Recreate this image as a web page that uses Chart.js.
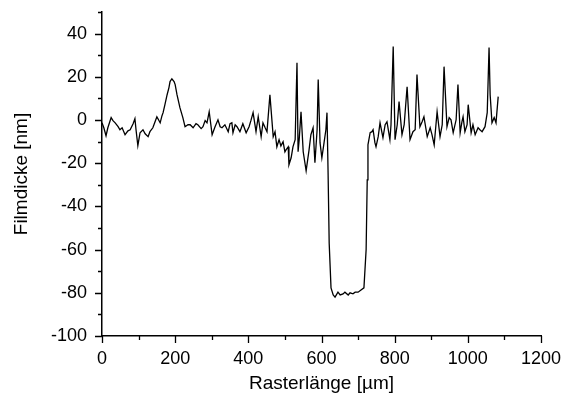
<!DOCTYPE html>
<html>
<head>
<meta charset="utf-8">
<script src="https://cdn.jsdelivr.net/npm/chart.js@4"></script>
<style>
  body { margin: 0; background: #fff; }
  #wrap { width: 562px; height: 401px; }
</style>
</head>
<body>
<div id="wrap"><canvas id="profileChart" width="562" height="401"></canvas></div>
<script>
// Rasterlänge in µm
const rasterX = [
  0, 5, 11, 16, 25, 30, 36, 44, 49, 55, 63, 71, 77, 85, 90, 93, 98, 104, 112, 118,
  126, 131, 139, 145, 150, 159, 164, 167, 172, 178, 183, 186, 191, 197, 200, 205, 213, 221, 227, 235,
  241, 249, 257, 262, 271, 276, 282, 287, 293, 301, 309, 317, 323, 328, 336, 345, 350, 355, 358, 364,
  369, 377, 385, 394, 402, 407, 413, 421, 427, 435, 440, 446, 451, 459, 468, 473, 478, 484, 489, 495,
  500, 503, 509, 511, 517, 522, 528, 533, 536, 539, 544, 550, 558, 566, 571, 577, 582, 588, 591, 596,
  601, 607, 612, 615, 618, 621, 626, 632, 637, 645, 651, 659, 664, 673, 678, 686, 692, 700, 708, 716,
  722, 725, 727, 733, 738, 741, 746, 749, 755, 760, 768, 774, 779, 787, 790, 796, 801, 807, 812, 820,
  826, 834, 842, 850, 856, 861, 869, 875, 880, 889, 897, 902, 908, 916, 924, 930, 935, 943, 949, 954,
  960, 968, 973, 979, 984, 987, 992, 998, 1001, 1009, 1014, 1020, 1028, 1033, 1039, 1047, 1053, 1058, 1061, 1066,
  1072, 1077, 1083
];

// Filmdicke in nm
const filmDicke = [
  -1.3, -3.6, -7.3, -3.6, 1.1, -0.3, -1.3, -3.1, -4.5, -3.6, -6.8, -5.0, -4.5, -1.7, 0.6, -4.5, -11.9, -5.9, -4.5, -6.4,
  -7.7, -5.4, -3.6, -0.8, 1.5, -1.3, 2.0, 3.4, 7.1, 11.7, 15.0, 17.8, 19.1, 17.8, 16.4, 11.7, 5.7, 1.1, -3.1, -2.2,
  -2.2, -3.6, -1.7, -2.2, -4.0, -3.1, -0.3, -1.3, 3.8, -6.8, -3.1, 0.1, -3.1, -3.6, -2.2, -5.4, -1.7, -1.3, -5.9, -2.2,
  -3.1, -5.4, -1.7, -5.9, -3.1, -0.3, 3.4, -5.4, 1.5, -7.7, -1.3, -3.6, -5.4, 11.7, -7.7, -5.4, -12.4, -9.1, -12.0, -10.1,
  -14.7, -13.8, -12.4, -20.7, -17.5, -12.4, -9.1, 26.5, -14.7, -9.1, 3.8, -14.7, -23.5, -13.8, -6.8, -3.6, -19.8, -4.5, 18.7, -10.5,
  -17.5, -10.5, -4.5, 3.4, -24.4, -57, -77.7, -81, -82, -79.7, -81, -80.5, -79.7, -81, -80, -80.5, -79.7, -79.7, -78.7, -77.7,
  -60, -27.7, -11.5, -5.9, -5.4, -4.5, -10.5, -12.4, -7.7, -1.3, -8.2, -2.2, -0.8, -9.1, -2.2, 34.0, -9.1, -2.2, 8.5, -6.8,
  -2.2, 15.4, -9.1, -5.4, -4.5, 21.0, -3.1, -0.8, 1.5, -7.7, -3.6, -6.8, -11.5, 3.8, -7.7, -2.2, 24.7, -3.1, 1.1, 0.1,
  -5.9, 0.1, 16.4, -5.9, -0.8, 1.5, -5.4, -2.2, 7.1, -5.9, -2.2, -6.8, -3.6, -4.5, -5.4, -3.1, 3.4, 33.5, 11.7, -1.3,
  1.1, -1.3, 10.8
];

const xTickLabels = ["0", "200", "400", "600", "800", "1000", "1200"];
const yTickLabels = ["-100", "-80", "-60", "-40", "-20", "0", "20", "40"];

const points = rasterX.map((x, i) => ({ x: x, y: filmDicke[i] }));

const fontFamily = "'Liberation Sans', Arial, sans-serif";

// tick marks outside the axes: long for labelled, short for the others
const outerTicks = {
  id: "outerTicks",
  afterDraw(chart) {
    const ctx = chart.ctx;
    const xs = chart.scales.x;
    const ys = chart.scales.y;
    ctx.save();
    ctx.strokeStyle = "#000";
    ctx.lineWidth = 1.3;
    ctx.beginPath();
    xs.ticks.forEach(t => {
      const px = Math.round(xs.getPixelForValue(t.value)) + 0.5;
      const len = xTickLabels.includes(String(t.value)) ? 7 : 4;
      ctx.moveTo(px, xs.top);
      ctx.lineTo(px, xs.top + len);
    });
    ys.ticks.forEach(t => {
      const py = Math.round(ys.getPixelForValue(t.value)) + 0.5;
      const len = yTickLabels.includes(String(t.value)) ? 7 : 4;
      ctx.moveTo(ys.right, py);
      ctx.lineTo(ys.right - len, py);
    });
    ctx.stroke();
    ctx.restore();
  }
};

new Chart(document.getElementById("profileChart"), {
  type: "scatter",
  data: {
    datasets: [{
      data: points,
      showLine: true,
      borderColor: "#000",
      borderWidth: 1.3,
      pointRadius: 0,
      tension: 0
    }]
  },
  options: {
    responsive: false,
    animation: false,
    layout: { padding: { left: 0, top: 12, right: 21, bottom: 0 } },
    plugins: {
      legend: { display: false },
      tooltip: { enabled: false }
    },
    scales: {
      x: {
        type: "linear",
        min: 0,
        max: 1200,
        afterFit: s => { s.height = 65; s.paddingLeft = 0; s.paddingRight = 0; },
        grid: { display: false },
        border: { display: true, color: "#000", width: 1.5 },
        ticks: {
          stepSize: 100,
          autoSkip: false,
          maxRotation: 0,
          padding: 4,
          color: "#000",
          font: { family: fontFamily, size: 18 },
          callback: v => (xTickLabels.includes(String(v)) ? String(v) : "")
        },
        title: {
          display: true,
          text: "Rasterlänge [µm]",
          color: "#000",
          font: { family: fontFamily, size: 19 },
          padding: { top: 0, bottom: 6 }
        }
      },
      y: {
        type: "linear",
        min: -100,
        max: 50,
        afterFit: s => { s.width = 102; s.paddingTop = 0; s.paddingBottom = 0; },
        grid: { display: false },
        border: { display: true, color: "#000", width: 1.5 },
        ticks: {
          stepSize: 10,
          autoSkip: false,
          padding: 7,
          color: "#000",
          font: { family: fontFamily, size: 18 },
          callback: v => (yTickLabels.includes(String(v)) ? String(v) : "")
        },
        title: {
          display: true,
          text: "Filmdicke [nm]",
          color: "#000",
          font: { family: fontFamily, size: 19 },
          padding: { top: 10, bottom: 0 }
        }
      }
    }
  },
  plugins: [outerTicks]
});
</script>
</body>
</html>
